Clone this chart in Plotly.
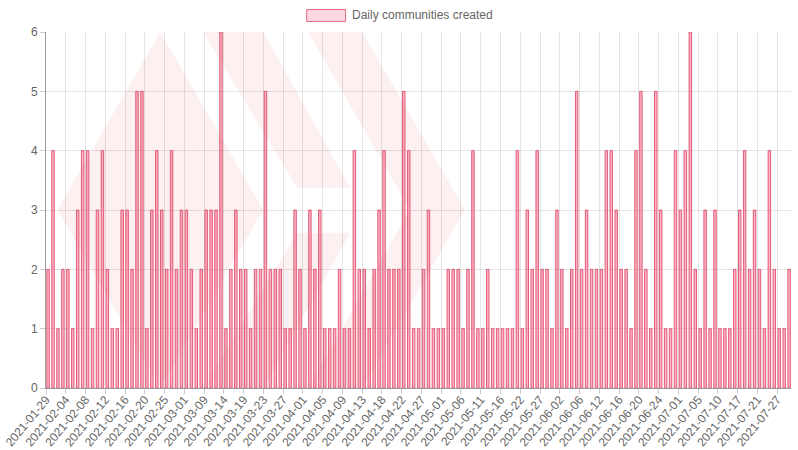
import plotly.graph_objects as go

tick_labels = ["2021-01-29","2021-02-04","2021-02-08","2021-02-12","2021-02-16","2021-02-20","2021-02-25","2021-03-01",
"2021-03-09","2021-03-14","2021-03-19","2021-03-23","2021-03-27","2021-04-01","2021-04-05","2021-04-09","2021-04-13",
"2021-04-18","2021-04-22","2021-04-27","2021-05-01","2021-05-06","2021-05-11","2021-05-16","2021-05-22","2021-05-27",
"2021-06-02","2021-06-06","2021-06-12","2021-06-16","2021-06-20","2021-06-24","2021-07-01","2021-07-05","2021-07-10",
"2021-07-17","2021-07-21","2021-07-27"]
values = [2,4,1,2,2,1,3,4,4,1,3,4,2,1,1,3,3,2,5,5,1,3,4,3,2,4,2,3,3,2,1,2,3,3,3,6,1,2,3,2,2,1,2,2,5,
2,2,2,1,1,3,2,1,3,2,3,1,1,1,2,1,1,4,2,2,1,2,3,4,2,2,2,5,4,1,1,2,3,1,1,1,2,2,2,1,2,4,1,1,2,1,1,1,1,1,4,1,3,
2,4,2,2,1,3,2,1,2,5,2,3,2,2,2,4,4,3,2,2,1,4,5,2,1,5,3,1,1,4,3,4,6,2,1,3,1,3,1,1,1,2,3,4,2,3,2,1,4,2,1,1,2]
series_name = "Daily communities created"
positions = list(range(len(values)))
tick_positions = positions[::4]

W, H = 798, 450
L, R, T, B = 45.5, 791.5, 32, 388.3
def px(x): return (x - L) / (R - L)
def py(y): return (B - y) / (B - T)
def poly(points):
    return "M" + " L".join(f"{px(x):.5f},{py(y):.5f}" for x, y in points) + " Z"

logo_shapes = [
    [(160,32),(263,210),(160,388),(57,210)],
    [(203,32),(263,32),(350,188),(297,188)],
    [(297,233),(350,233),(263,388),(203,388)],
    [(308,32),(362,32),(465,210),(362,388),(308,388),(410,210)],
]

fig = go.Figure(go.Bar(
    x=positions, y=values, name=series_name,
    offset=0.17, width=0.5,
    marker=dict(color="rgba(255,99,132,0.5)", line=dict(color="rgba(222,80,112,0.9)", width=1)),
))
for pts in logo_shapes:
    fig.add_shape(type="path", path=poly(pts), xref="paper", yref="paper", layer="below",
                  fillcolor="#fcf0f0", line=dict(width=0))
# legend swatch and text
fig.add_shape(type="rect", xref="paper", yref="paper", x0=px(306.5), x1=px(345.5), y0=py(21.5), y1=py(9.5),
              fillcolor="rgba(255,99,132,0.25)", line=dict(color="rgba(226,90,120,0.9)", width=1))
fig.add_annotation(text=series_name, xref="paper", yref="paper", x=px(349.5), y=py(15),
                   xanchor="left", yanchor="middle", showarrow=False,
                   font=dict(family="Liberation Sans", size=12, color="#666666"))

grid = "rgba(0,0,0,0.1)"
fig.update_layout(
    width=W, height=H, autosize=False, showlegend=False,
    margin=dict(l=L, r=W - R, t=T, b=H - B, pad=0, autoexpand=False),
    paper_bgcolor="white", plot_bgcolor="rgba(0,0,0,0)",
    font=dict(family="Liberation Sans", size=12, color="#666666"),
    bargap=0,
    xaxis=dict(range=[0, 150.8], tickmode="array", tickvals=tick_positions, ticktext=tick_labels,
               tickangle=-50, ticks="outside", ticklen=5, tickcolor="#cccccc", tickwidth=1, automargin=False,
               ticklabelstandoff=-6,
               showgrid=True, gridcolor=grid, gridwidth=1, zeroline=False,
               showline=True, linecolor="#999999", linewidth=1),
    yaxis=dict(range=[0, 6], tickmode="array", tickvals=[0,1,2,3,4,5,6], ticks="outside", ticklen=5, automargin=False,
               tickcolor="#cccccc", tickwidth=1, showgrid=True, gridcolor=grid, gridwidth=1, zeroline=False,
               showline=True, linecolor="#999999", linewidth=1),
)
fig.write_html("out.html", config=dict(staticPlot=True), post_script="document.body.style.margin='0';")
